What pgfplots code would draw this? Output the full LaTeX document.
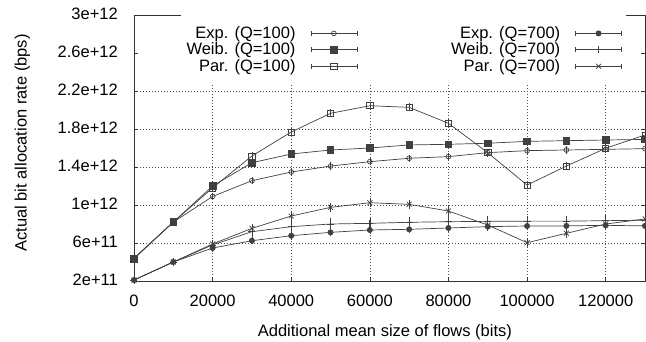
\documentclass[border=0pt]{standalone}
\usepackage{pgfplots}
\pgfplotsset{compat=1.18}
\usepackage{pgfplotstable}
\usepackage{fontspec}
\setmainfont{Liberation Sans}

\pgfplotstableread{
x y e
0 4.4e11 1e10
10000 8.2e11 1e10
20000 1.09e12 1.5e10
30000 1.256e12 1.5e10
40000 1.347e12 1.5e10
50000 1.41e12 1.5e10
60000 1.456e12 1.5e10
70000 1.492e12 1.5e10
80000 1.509e12 1.5e10
90000 1.551e12 1.5e10
100000 1.572e12 1.5e10
110000 1.579e12 1.5e10
120000 1.586e12 1.5e10
130000 1.593e12 1.5e10
}\expA

\pgfplotstableread{
x y e
0 4.35e11 1e10
10000 8.2e11 1e10
20000 1.2e12 1e10
30000 1.445e12 1e10
40000 1.537e12 1e10
50000 1.579e12 1e10
60000 1.6e12 1e10
70000 1.632e12 1e10
80000 1.639e12 1e10
90000 1.65e12 1e10
100000 1.67e12 1e10
110000 1.677e12 1e10
120000 1.684e12 1e10
130000 1.69e12 1e10
}\weibA

\pgfplotstableread{
x y e
0 4.4e11 1e10
10000 8.2e11 1e10
20000 1.18e12 1.5e10
30000 1.516e12 2e10
40000 1.768e12 2e10
50000 1.965e12 2e10
60000 2.045e12 2e10
70000 2.028e12 2e10
80000 1.86e12 2e10
90000 1.55e12 2e10
100000 1.21e12 2e10
110000 1.41e12 2e10
120000 1.597e12 2e10
130000 1.737e12 2e10
}\parA

\pgfplotstableread{
x y e
0 2.1e11 1e10
10000 4e11 1e10
20000 5.47e11 1.5e10
30000 6.24e11 1.5e10
40000 6.77e11 2e10
50000 7.12e11 2e10
60000 7.37e11 2e10
70000 7.44e11 2e10
80000 7.58e11 2e10
90000 7.72e11 2e10
100000 7.79e11 2e10
110000 7.8e11 2e10
120000 7.86e11 2e10
130000 7.8e11 2e10
}\expB

\pgfplotstableread{
x y e
0 2.1e11 1e10
10000 4e11 1.5e10
20000 5.8e11 2.5e10
30000 7.19e11 3e10
40000 7.72e11 3.5e10
50000 8e11 3.5e10
60000 8.07e11 3.5e10
70000 8.18e11 3.5e10
80000 8.24e11 3.5e10
90000 8.28e11 3.5e10
100000 8.3e11 3.5e10
110000 8.3e11 3.5e10
120000 8.35e11 3.5e10
130000 8.4e11 3.5e10
}\weibB

\pgfplotstableread{
x y e
0 2.1e11 1e10
10000 4e11 1e10
20000 5.9e11 2e10
30000 7.54e11 2.5e10
40000 8.84e11 2.5e10
50000 9.75e11 2.5e10
60000 1.024e12 2.5e10
70000 1.007e12 2.5e10
80000 9.37e11 2.5e10
90000 7.89e11 2.5e10
100000 6.03e11 2.5e10
110000 7.02e11 2.5e10
120000 8e11 2.5e10
130000 8.53e11 2.5e10
}\parB

\begin{document}
\fontsize{16.5}{19}\selectfont
\begin{tikzpicture}
\path[use as bounding box] (-134pt,-61pt) rectangle (512pt,281pt);
\begin{axis}[
  at={(0,0)}, anchor=south west,
  scale only axis, width=511pt, height=266pt,
  xmin=0, xmax=130000, ymin=2e11, ymax=3e12,
  xtick={0,20000,40000,60000,80000,100000,120000},
  xticklabels={0,20000,40000,60000,80000,100000,120000},
  ytick={2e11,6e11,1e12,1.4e12,1.8e12,2.2e12},
  yticklabels={2e+11,6e+11,1e+12,1.4e+12,1.8e+12,2.2e+12},
  extra y ticks={2.6e12,3e12},
  extra y tick labels={2.6e+12,3e+12},
  extra y tick style={grid=none},
  scaled ticks=false,
  grid=major,
  major grid style={line width=0.6pt, black!70, dash pattern=on 0.8pt off 2.2pt},
  axis line style={black!80, line width=0.8pt},
  tick style={black!80, line width=0.6pt},
  major tick length=4pt,
  xticklabel style={anchor=base, inner sep=0pt, yshift=-26pt},
  yticklabel style={anchor=mid east, inner sep=0pt, xshift=-16pt},
  xlabel={Additional mean size of flows (bits)},
  ylabel={Actual bit allocation rate (bps)},
  xlabel style={at={(axis description cs:0.491,0)}, anchor=base, yshift=-56pt},
  ylabel style={at={(axis description cs:-0.21,0.519)}, anchor=base},
  error bars/y dir=both,
  error bars/y explicit,
  error bars/error bar style={line width=0.6pt},
  error bars/error mark options={mark size=2.2pt, line width=0.6pt},
  every axis plot/.append style={line width=0.7pt, black!75, mark options={solid}},
  legend plot pos=right,
  legend columns=2,
  legend cell align=right,
  legend style={at={(rel axis cs:0.963,1)}, anchor=north east, fill=white, draw=none,
    inner xsep=4pt, inner ysep=9pt, row sep=-2pt,
    /tikz/every odd column/.append style={column sep=13pt},
    /tikz/every even column/.append style={column sep=92pt}},
  legend image code/.code={
    \draw[#1,mark=none] (0pt,0pt) -- (46pt,0pt);
    \draw[#1,mark=none] (0pt,-2.5pt) -- (0pt,2.5pt);
    \draw[#1,mark=none] (46pt,-2.5pt) -- (46pt,2.5pt);
    \draw[#1,only marks] plot coordinates {(23pt,0pt)};
  },
]
\addplot[mark=o, mark size=2.4pt] table[x=x,y=y,y error=e] {\expA};
\addlegendentry{Exp. (Q=100)}
\addplot[mark=*, mark size=2.6pt] table[x=x,y=y,y error=e] {\expB};
\addlegendentry{Exp. (Q=700)}
\addplot[mark=square*, mark size=3.3pt] table[x=x,y=y,y error=e] {\weibA};
\addlegendentry{Weib. (Q=100)}
\addplot[mark=+, mark size=3.5pt] table[x=x,y=y,y error=e] {\weibB};
\addlegendentry{Weib. (Q=700)}
\addplot[mark=square, mark size=3.1pt] table[x=x,y=y,y error=e] {\parA};
\addlegendentry{Par. (Q=100)}
\addplot[mark=x, mark size=3.5pt] table[x=x,y=y,y error=e] {\parB};
\addlegendentry{Par. (Q=700)}
\end{axis}
\end{tikzpicture}
\end{document}
